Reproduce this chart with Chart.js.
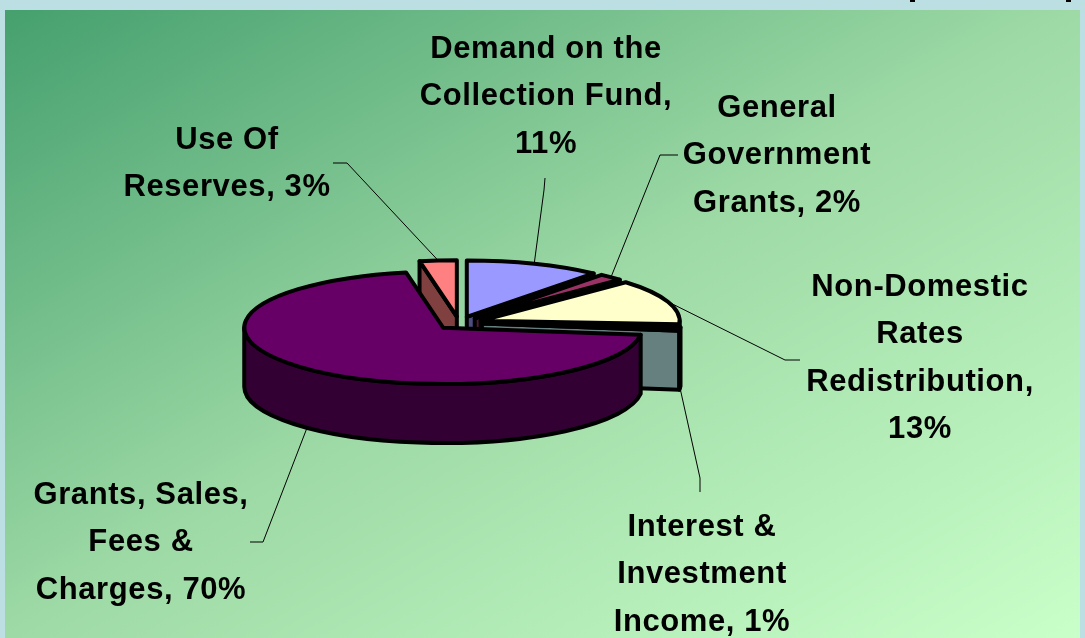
<!DOCTYPE html>
<html><head><meta charset="utf-8">
<style>
html,body{margin:0;padding:0;width:1085px;height:638px;overflow:hidden;background:#BBDFE3}
#panel{position:absolute;left:5px;top:10px;width:1075px;height:628px;background:linear-gradient(to bottom right,#45A06E 0%,#9EDAA6 50%,#C9FFC9 100%)}
#wrap{position:absolute;left:0;top:0;width:1085px;height:638px}
</style>
<script src="https://cdn.jsdelivr.net/npm/chart.js@4"></script>
</head><body>
<div id="panel"></div>
<div id="wrap"><canvas id="c" width="1085" height="638"></canvas></div>
<script>
const categories = ["Demand on the Collection Fund","General Government Grants","Non-Domestic Rates Redistribution","Interest & Investment Income","Grants, Sales, Fees & Charges","Use Of Reserves"];
const values = [11,2,13,1,70,3];
const topColors = ["#9999FF","#993366","#FFFFCC","#CCFFFF","#660066","#FF8080"];
const sideColors = ["#4D4D80","#4D1A33","#808066","#668080","#330033","#804040"];
const labelLines = [
  ["Demand on the","Collection Fund,","11%"],
  ["General","Government","Grants, 2%"],
  ["Non-Domestic","Rates","Redistribution,","13%"],
  ["Interest &","Investment","Income, 1%"],
  ["Grants, Sales,","Fees &","Charges, 70%"],
  ["Use Of","Reserves, 3%"]
];
const drawOrder = [5,0,1,2,3,4];
const SQUASH = 0.283, DEPTH = 59, EXPLODE = 23, LINE_H = 47.6;
const labelPos = [
  {x:546,y:49,elbow:[[545,178],[544,190]],rim:false},
  {x:777,y:108,elbow:[[678,155],[660,155]],rim:false},
  {x:920,y:287,elbow:[[800,360],[785,360]],rim:false},
  {x:702,y:527,elbow:[[700,492],[700,478]],rim:true},
  {x:141,y:495,elbow:[[250,542],[263,542]],rim:true},
  {x:227,y:140,elbow:[[333,163],[347,163]],rim:false}
];

function geom(arc){
  const p = arc.getProps(['x','y','startAngle','endAngle','outerRadius'],true);
  const mid = (p.startAngle+p.endAngle)/2;
  return {...p,mid,ax:p.x+Math.cos(mid)*EXPLODE,ay:p.y+Math.sin(mid)*EXPLODE*SQUASH,ry:p.outerRadius*SQUASH};
}
const pie3d = {
  id:'pie3d',
  beforeDatasetDraw(chart,args){
    const ctx = chart.ctx, meta = chart.getDatasetMeta(0);
    ctx.save();
    ctx.lineJoin='round';
    ctx.strokeStyle='#000';
    ctx.lineWidth=4;
    drawOrder.forEach(i=>{
      const arc = meta.data[i], g = geom(arc), R=g.outerRadius, ry=g.ry;
      const pt = t=>[g.ax+R*Math.cos(t),g.ay+ry*Math.sin(t)];
      ctx.fillStyle = sideColors[i];
      const face = t=>{
        const q=pt(t);
        ctx.beginPath();
        ctx.moveTo(g.ax,g.ay);ctx.lineTo(q[0],q[1]);ctx.lineTo(q[0],q[1]+DEPTH);ctx.lineTo(g.ax,g.ay+DEPTH);ctx.closePath();
        ctx.fill();ctx.stroke();
      };
      if(Math.cos(g.startAngle)<0) face(g.startAngle);
      if(Math.cos(g.endAngle)>0) face(g.endAngle);
      const a1=Math.max(g.startAngle,0), a2=Math.min(g.endAngle,Math.PI);
      if(a2>a1){
        ctx.beginPath();
        ctx.ellipse(g.ax,g.ay+DEPTH,R,ry,0,a1,a2);
        ctx.ellipse(g.ax,g.ay,R,ry,0,a2,a1,true);
        ctx.closePath();ctx.fill();ctx.stroke();
      }
      ctx.save();
      ctx.translate(g.ax,g.ay);ctx.scale(1,SQUASH);ctx.translate(-g.x,-g.y);
      arc.draw(ctx);
      ctx.restore();
      ctx.beginPath();
      ctx.moveTo(g.ax,g.ay);
      ctx.ellipse(g.ax,g.ay,R,ry,0,g.startAngle,g.endAngle);
      ctx.closePath();ctx.stroke();
    });
    ctx.restore();
    return false;
  },
  afterDraw(chart){
    const ctx = chart.ctx, meta = chart.getDatasetMeta(0);
    ctx.save();
    ctx.strokeStyle='#000';ctx.lineWidth=1;
    labelPos.forEach((l,i)=>{
      const g = geom(meta.data[i]);
      const ex=g.ax+g.outerRadius*Math.cos(g.mid), ey=g.ay+g.ry*Math.sin(g.mid)+(l.rim?DEPTH:0);
      ctx.beginPath();
      ctx.moveTo(l.elbow[0][0],l.elbow[0][1]);
      ctx.lineTo(l.elbow[1][0],l.elbow[1][1]);
      ctx.lineTo(ex,ey);
      ctx.stroke();
    });
    ctx.fillStyle='#000';
    ctx.font='bold 31px "Liberation Sans", Arial, sans-serif';
    ctx.letterSpacing='0.6px';
    ctx.textAlign='center';ctx.textBaseline='middle';
    labelLines.forEach((lines,i)=>{
      lines.forEach((s,j)=>ctx.fillText(s,labelPos[i].x,labelPos[i].y+j*LINE_H));
    });
    ctx.letterSpacing='0px';
    ctx.fillRect(910,0,5,2);ctx.fillRect(1066,0,5,2);
    ctx.restore();
  }
};
new Chart(document.getElementById('c'),{
  type:'pie',
  data:{labels:categories,datasets:[{data:values,backgroundColor:topColors,borderWidth:0,hoverOffset:0}]},
  options:{
    responsive:false,animation:false,
    layout:{padding:{left:260,right:427,top:124,bottom:116}},
    plugins:{legend:{display:false},tooltip:{enabled:false}}
  },
  plugins:[pie3d]
});
</script>
</body></html>
